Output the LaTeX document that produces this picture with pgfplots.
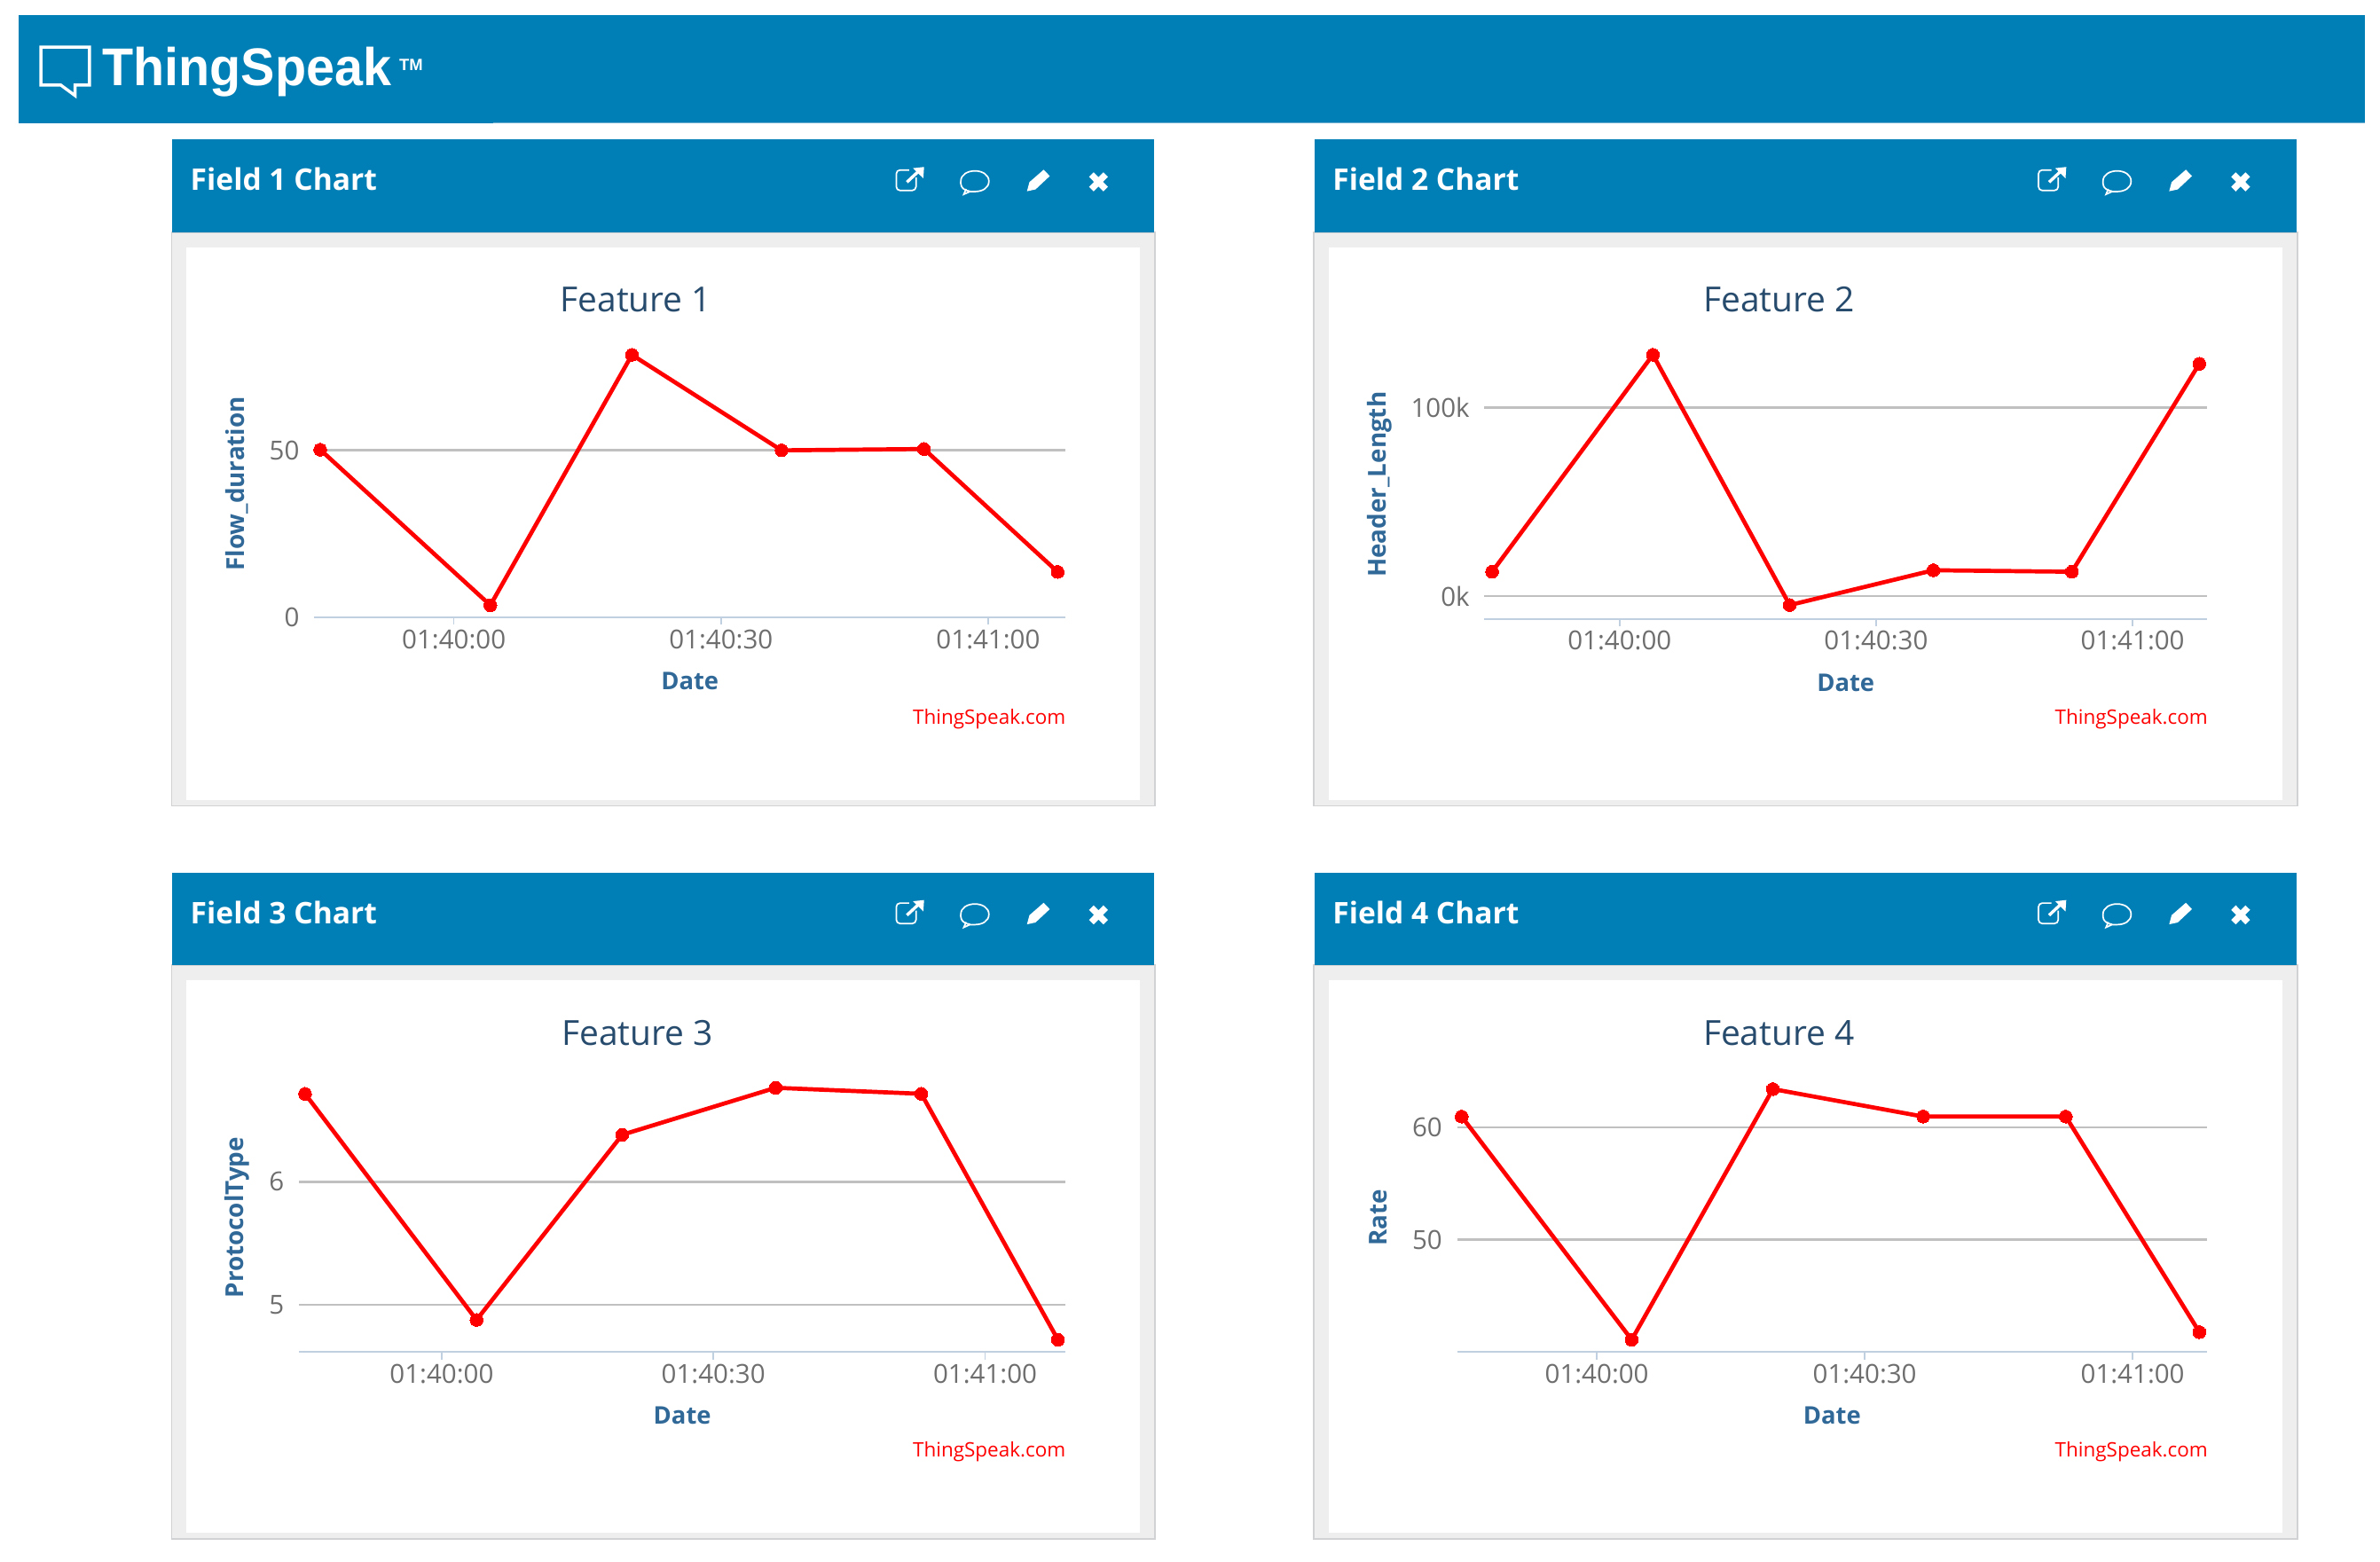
\documentclass[border=0pt]{standalone}
\usepackage{fontspec}
\usepackage{pgfplots}
\pgfplotsset{compat=1.18}
\setmainfont{Open Sans}
\newfontfamily\logofont{Liberation Sans}

\definecolor{tsblue}{RGB}{0,127,182}
\definecolor{panelgrey}{RGB}{238,238,238}
\definecolor{paneledge}{RGB}{208,210,212}
\definecolor{titleblue}{RGB}{39,75,109}
\definecolor{labelblue}{RGB}{48,104,152}
\definecolor{tickgrey}{RGB}{110,110,110}
\definecolor{gridgrey}{RGB}{192,192,192}
\definecolor{xaxisblue}{RGB}{192,208,224}

% one px of the 1568 wide layout = 0.4pt
\pgfplotsset{
  featurechart/.style={
    scale only axis,
    anchor=south west,
    clip=false,
    axis x line=bottom,
    axis y line=left,
    axis line style={-},
    x axis line style={draw=xaxisblue,line width=0.5pt},
    y axis line style={draw=none},
    ytick style={draw=none},
    xtick style={draw=xaxisblue,line width=0.4pt},
    tick align=outside,
    major tick length=2pt,
    ymajorgrids,
    major grid style={draw=gridgrey,line width=0.6pt},
    xtick={0,30,60},
    xticklabels={01:40:00,01:40:30,01:41:00},
    tick label style={font=\fontsize{6.9}{8}\selectfont,text=tickgrey},
    xticklabel style={yshift=2.3pt},
    yticklabel style={xshift=1.6pt},
    scaled ticks=false,
    every axis title/.style={anchor=base,font=\fontsize{9.1}{11}\selectfont,text=titleblue},
    every axis x label/.style={at={(axis description cs:0.5,0)},anchor=base,yshift=-19.1pt,
      font=\fontsize{6.4}{9}\selectfont\bfseries,text=labelblue},
    every axis y label/.style={at={(axis description cs:0,0.5)},rotate=90,anchor=center,
      font=\fontsize{6.5}{9}\selectfont\bfseries,text=labelblue},
    xlabel={Date},
  },
  redline/.style={color=red,line width=1.1pt,mark=*,mark size=1.7pt,mark options={fill=red,draw=red,line width=0pt}},
}

\newcommand{\panelframe}[3]{%
  \begin{scope}[shift={(#1,#2)}]
    \fill[panelgrey,draw=paneledge,line width=0.4pt] (113,153) rectangle (761,531);
    \fill[white] (123,163) rectangle (751,527);
    \fill[tsblue] (113.5,92) rectangle (760.5,153);
    \node[anchor=base west,text=white,font=\fontsize{7.85}{9}\selectfont\bfseries,inner sep=0pt] at (125,125.5) {#3};
    % share icon
    \draw[white,line width=0.4pt,rounded corners=1pt] (603.5,117) -- (603.5,125.5) -- (590.5,125.5) -- (590.5,112) -- (599,112);
    \draw[white,line width=0.8pt] (597.5,120) -- (605,113);
    \fill[white] (608.8,110) -- (608.3,117.5) -- (601.5,110.8) -- cycle;
    % comment icon
    \draw[white,line width=0.4pt] (639,126) .. controls (632,125) and (633,120) .. (633,119.4)
      .. controls (633,115) and (637.5,112.6) .. (642.3,112.6)
      .. controls (647,112.6) and (651.5,115) .. (651.5,119.4)
      .. controls (651.5,124) and (647,126.2) .. (642.3,126.2) -- (639,126.2) -- (635,128) -- (636.5,124.5);
    % pencil icon
    \fill[white] (676.6,126) -- (678.2,120) -- (687.6,111.8) -- (691.6,116) -- (682.2,124.8) -- cycle;
    % close icon
    \draw[white,line width=1.7pt] (719,115) -- (728.4,124.6) (728.4,115) -- (719,124.6);
    \node[anchor=base east,text=red,font=\fontsize{5.25}{7}\selectfont,inner sep=0pt] at (702.5,477) {ThingSpeak.com};
  \end{scope}}

\begin{document}
\begin{tikzpicture}[x=0.4pt,y=-0.4pt]
  \fill[white] (0,0) rectangle (1568,1029.15);

  % top bar
  \fill[tsblue] (12,10) rectangle (1558,81);
  \draw[xaxisblue!60!tsblue,line width=0.4pt] (325,81) -- (1558,81);
  \draw[white,line width=0.8pt,line join=miter] (27,31) -- (59,31) -- (59,56) -- (49.5,56) -- (49.5,63) -- (40,56) -- (27,56) -- cycle;
  \node[anchor=base west,text=white,inner sep=0pt,xscale=0.96] at (67,56.5) {\fontsize{14}{17}\selectfont\logofont\bfseries ThingSpeak};
  \node[anchor=base west,text=white,inner sep=0pt] at (262.5,46.5) {\fontsize{4.3}{5}\selectfont\logofont\bfseries TM};

  \panelframe{0}{0}{Field 1 Chart}
  \panelframe{752.5}{0}{Field 2 Chart}
  \panelframe{0}{483}{Field 3 Chart}
  \panelframe{752.5}{483}{Field 4 Chart}

  \coordinate (a1) at (207,406.7);
  \coordinate (a2) at (978,407.7);
  \coordinate (a3) at (197,890.7);
  \coordinate (a4) at (960,890.7);

  \begin{axis}[featurechart,at={(a1)},width=198pt,height=70.4pt,
      xmin=-15.68,xmax=68.69,ymin=0,ymax=80,
      ytick={0,50},yticklabels={0,50},
      title={Feature 1},title style={at={(axis description cs:0.428,1)},yshift=10.1pt},
      ylabel={Flow\_duration},ylabel style={yshift=20.4pt}]
    \addplot[redline] coordinates {(-15,50.2) (4.1,3.6) (20,78.6) (36.8,50) (52.8,50.4) (67.8,13.6)};
  \end{axis}

  \begin{axis}[featurechart,at={(a2)},width=190.4pt,height=70.8pt,
      xmin=-15.8,xmax=68.7,ymin=-12097,ymax=130640,
      ytick={0,100000},yticklabels={0k,100k},
      title={Feature 2},title style={at={(axis description cs:0.4076,1)},yshift=10.1pt},
      ylabel={Header\_Length},ylabel style={yshift=27.6pt}]
    \addplot[redline] coordinates {(-14.9,12900) (3.9,128200) (19.9,-4800) (36.7,13700) (52.9,12900) (67.8,123400)};
  \end{axis}

  \begin{axis}[featurechart,at={(a3)},width=202pt,height=70.8pt,
      xmin=-15.75,xmax=68.88,ymin=4.617,ymax=6.802,
      ytick={5,6},yticklabels={5,6},
      title={Feature 3},title style={at={(axis description cs:0.4416,1)},yshift=10.1pt},
      ylabel={ProtocolType},ylabel style={yshift=16.4pt}]
    \addplot[redline] coordinates {(-15.08,6.716) (3.85,4.877) (19.94,6.383) (36.87,6.765) (52.96,6.716) (68.04,4.716)};
  \end{axis}

  \begin{axis}[featurechart,at={(a4)},width=197.6pt,height=70.8pt,
      xmin=-15.64,xmax=68.33,ymin=40,ymax=63.92,
      ytick={50,60},yticklabels={50,60},
      title={Feature 4},title style={at={(axis description cs:0.429,1)},yshift=10.1pt},
      ylabel={Rate},ylabel style={yshift=20.8pt}]
    \addplot[redline] coordinates {(-15.13,60.95) (3.91,41.08) (19.72,63.4) (36.55,60.95) (52.52,60.95) (67.48,41.76)};
  \end{axis}
\end{tikzpicture}
\end{document}
